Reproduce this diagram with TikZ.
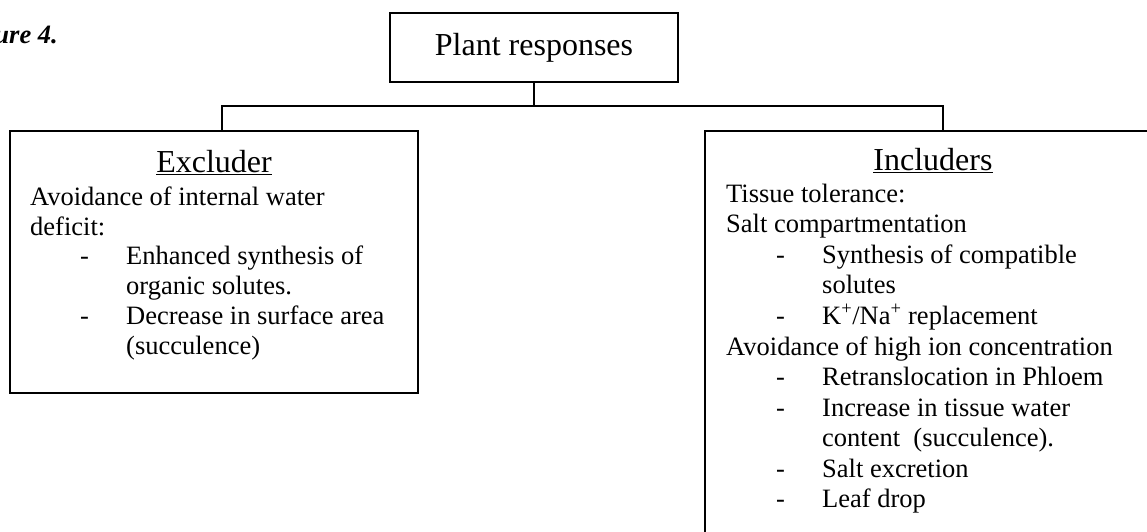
\documentclass[tikz,border=0pt]{standalone}
\usepackage{fontspec}
\setmainfont{Liberation Serif}
\begin{document}
\begin{tikzpicture}[x=1pt,y=-1pt,
  boxline/.style={draw=black,line width=1.6pt,inner sep=0pt,outer sep=0pt},
  wire/.style={draw=black,line width=1.6pt},
  txtline/.style={anchor=base west,inner sep=0pt,font=\fontsize{26.5}{30.5}\selectfont},
  headtxt/.style={anchor=base,inner sep=0pt,font=\fontsize{32}{36}\selectfont}]
\useasboundingbox (0,0) rectangle (1147,531);
% figure label
\node[anchor=base east,inner sep=0pt,font=\fontsize{26.5}{30.5}\selectfont\bfseries\itshape] (fig) at (58,43) {Figure 4.};
% top box
\node[boxline,minimum width=288pt,minimum height=69pt,font=\fontsize{32}{36}\selectfont] (top) at (534,47.5) {Plant responses};
% left and right boxes
\node[boxline,anchor=north west,minimum width=408pt,minimum height=262pt] (exc) at (10,131) {};
\node[boxline,anchor=north west,minimum width=480pt,minimum height=460pt] (inc) at (705,131) {};
% connectors
\coordinate (busL) at (222,106);
\coordinate (busR) at (943,106);
\draw[wire] (top.south) -- (top.south |- busL);
\draw[wire,line cap=rect] (busL) -- (busR);
\draw[wire] (busL) -- (busL |- exc.north);
\draw[wire] (busR) -- (busR |- inc.north);
% Excluder text
\node[headtxt] (exh) at (214,172) {\underline{Excluder}};
\node[txtline] (e1) at (30,205) {Avoidance of internal water};
\node[txtline] (e2) at (30,235) {deficit:};
\node[txtline] (e3d) at (80,264) {-};
\node[txtline] (e3) at (126,264) {Enhanced synthesis of};
\node[txtline] (e4) at (126,294) {organic solutes.};
\node[txtline] (e5d) at (80,324) {-};
\node[txtline] (e5) at (126,324) {Decrease in surface area};
\node[txtline] (e6) at (126,354) {(succulence)};
% Includers text
\node[headtxt] (inh) at (933,170) {\underline{Includers}};
\node[txtline] (i1) at (726,202) {Tissue tolerance:};
\node[txtline] (i2) at (726,232) {Salt compartmentation};
\node[txtline] (i3d) at (776,263) {-};
\node[txtline] (i3) at (822,263) {Synthesis of compatible};
\node[txtline] (i4) at (822,293) {solutes};
\node[txtline] (i5d) at (776,324) {-};
\node[txtline] (i5) at (822,324) {K\textsuperscript{+}/Na\textsuperscript{+} replacement};
\node[txtline] (i6) at (726,355) {Avoidance of high ion concentration};
\node[txtline] (i7d) at (776,385) {-};
\node[txtline] (i7) at (822,385) {Retranslocation in Phloem};
\node[txtline] (i8d) at (776,416) {-};
\node[txtline] (i8) at (822,416) {Increase in tissue water};
\node[txtline] (i9) at (822,446) {content\ \ (succulence).};
\node[txtline] (i10d) at (776,477) {-};
\node[txtline] (i10) at (822,477) {Salt excretion};
\node[txtline] (i11d) at (776,507) {-};
\node[txtline] (i11) at (822,507) {Leaf drop};
\end{tikzpicture}
\end{document}
